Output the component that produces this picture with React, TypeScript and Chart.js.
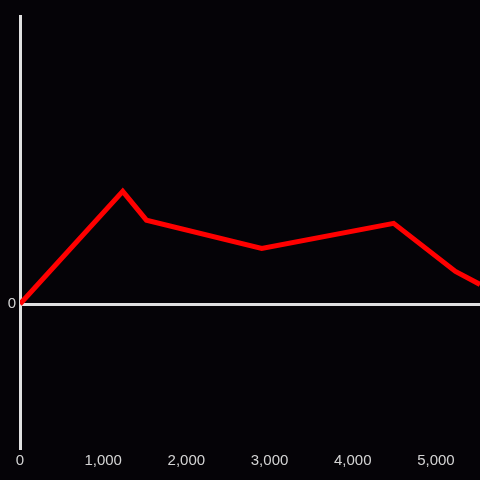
import React, { useEffect, useRef } from "react";
import { Chart, registerables } from "chart.js";

Chart.register(...registerables);

const xValues = [0, 1235, 1520, 2906, 4492, 5235, 5530];
const yValues = [0, 39.1, 29.1, 19.3, 28.0, 11.3, 6.8];
const xTicks = [0, 1000, 2000, 3000, 4000, 5000];
const xMin = 0;
const xMax = 5530;
const yMin = -50;
const yMax = 100;

export default function App() {
  const ref = useRef<HTMLCanvasElement | null>(null);
  useEffect(() => {
    if (!ref.current) return;
    const chart = new Chart(ref.current, {
      type: "line",
      data: {
        datasets: [
          {
            data: xValues.map((x, i) => ({ x, y: yValues[i] })),
            borderColor: "#ff0000",
            borderWidth: 5,
            pointRadius: 0,
            tension: 0,
            fill: false,
          },
        ],
      },
      options: {
        responsive: false,
        animation: false,
        layout: { padding: { top: 16, right: 0, left: 0, bottom: 0 } },
        plugins: { legend: { display: false }, tooltip: { enabled: false } },
        scales: {
          x: {
            type: "linear",
            min: xMin,
            max: xMax,
            grid: { display: false, drawTicks: false },
            border: { display: false },
            afterBuildTicks: (s: any) => {
              s.ticks = xTicks.map((v) => ({ value: v }));
            },
            ticks: {
              autoSkip: false,
              color: "#d4d4d4",
              font: { size: 15, family: "'Liberation Sans', Arial, sans-serif" },
              padding: 4,
              maxRotation: 0,
            },
            afterFit: (s: any) => {
              s.height = 32;
            },
          },
          y: {
            type: "linear",
            min: yMin,
            max: yMax,
            grid: {
              drawTicks: false,
              lineWidth: 3,
              color: (ctx: any) => (ctx.tick && ctx.tick.value === 0 ? "#e0e0e0" : "rgba(0,0,0,0)"),
            },
            border: { display: true, color: "#e0e0e0", width: 3 },
            ticks: {
              stepSize: 50,
              includeBounds: false,
              color: "#d4d4d4",
              font: { size: 15, family: "'Liberation Sans', Arial, sans-serif" },
              padding: 4,
              callback: (v: any) => (v === 0 ? "0" : ""),
            },
            afterFit: (s: any) => {
              s.width = 20;
            },
          },
        },
      },
    });
    return () => chart.destroy();
  }, []);
  return (
    <div style={{ position: "absolute", left: 0, top: 0, width: 480, height: 480, background: "#050307" }}>
      <canvas ref={ref} width={480} height={480} style={{ display: "block" }} />
    </div>
  );
}
